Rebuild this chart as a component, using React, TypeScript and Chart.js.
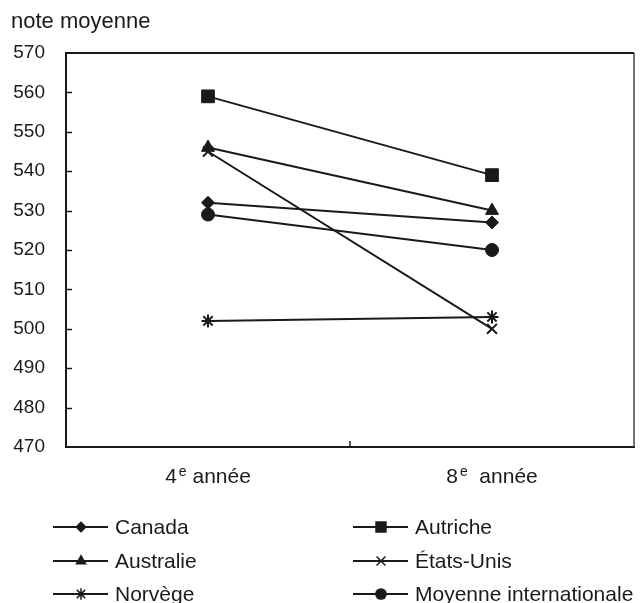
import React, { useEffect, useRef } from "react";
import { Chart, registerables } from "chart.js";

Chart.register(...registerables);

const categories = ["4", "8"];
const categorySuffix = [" année", "  année"];
const yMin = 470;
const yMax = 570;
const yStep = 10;

const seriesNames = ["Canada", "Autriche", "Australie", "États-Unis", "Norvège", "Moyenne internationale"];
const canada = [532, 527];
const autriche = [559, 539];
const australie = [546, 530];
const etatsUnis = [545, 500];
const norvege = [502, 503];
const moyenne = [529, 520];
const seriesValues = [canada, autriche, australie, etatsUnis, norvege, moyenne];
const seriesStyles = ["rectRot", "rect", "triangle", "crossRot", "star", "circle"];
const seriesRadius = [6.5, 9, 7.5, 7, 6.5, 6.5];
const legendOrder = [0, 1, 2, 3, 4, 5];

const FONT = "'Liberation Sans', Arial, Helvetica, sans-serif";
const INK = "#1a1a1a";

function drawMarker(ctx: CanvasRenderingContext2D, style: string, r: number, cx: number, cy: number) {
  ctx.save();
  ctx.fillStyle = INK;
  ctx.strokeStyle = INK;
  ctx.lineWidth = 1.5;
  ctx.beginPath();
  if (style === "rect") {
    const s = r * Math.SQRT1_2;
    ctx.rect(cx - s, cy - s, 2 * s, 2 * s);
    ctx.fill();
  } else if (style === "rectRot") {
    ctx.moveTo(cx - r, cy);
    ctx.lineTo(cx, cy - r);
    ctx.lineTo(cx + r, cy);
    ctx.lineTo(cx, cy + r);
    ctx.closePath();
    ctx.fill();
  } else if (style === "triangle") {
    ctx.moveTo(cx, cy - r);
    ctx.lineTo(cx + r * 0.866, cy + r * 0.5);
    ctx.lineTo(cx - r * 0.866, cy + r * 0.5);
    ctx.closePath();
    ctx.fill();
  } else if (style === "circle") {
    ctx.arc(cx, cy, r, 0, Math.PI * 2);
    ctx.fill();
  } else if (style === "crossRot") {
    const d = r * Math.SQRT1_2;
    ctx.moveTo(cx - d, cy - d);
    ctx.lineTo(cx + d, cy + d);
    ctx.moveTo(cx - d, cy + d);
    ctx.lineTo(cx + d, cy - d);
    ctx.stroke();
  } else if (style === "star") {
    const d = r * Math.SQRT1_2;
    ctx.moveTo(cx - d, cy - d);
    ctx.lineTo(cx + d, cy + d);
    ctx.moveTo(cx - d, cy + d);
    ctx.lineTo(cx + d, cy - d);
    ctx.moveTo(cx, cy - r);
    ctx.lineTo(cx, cy + r);
    ctx.stroke();
  }
  ctx.restore();
}

const customPlugin = {
  id: "customDraw",
  afterDraw(chart: any) {
    const ctx = chart.ctx;
    const area = chart.chartArea;
    const x = chart.scales.x;
    const y = chart.scales.y;
    ctx.save();
    ctx.strokeStyle = INK;
    ctx.lineWidth = 2;
    ctx.beginPath();
    ctx.moveTo(area.left, area.top);
    ctx.lineTo(area.right, area.top);
    ctx.stroke();
    ctx.strokeStyle = "#444";
    ctx.lineWidth = 1.5;
    ctx.beginPath();
    ctx.moveTo(area.right, area.top);
    ctx.lineTo(area.right, area.bottom);
    ctx.stroke();
    ctx.strokeStyle = INK;
    ctx.lineWidth = 1.5;
    for (let v = yMin + yStep; v < yMax; v += yStep) {
      const py = Math.round(y.getPixelForValue(v)) + 0.5;
      ctx.beginPath();
      ctx.moveTo(area.left, py);
      ctx.lineTo(area.left + 6, py);
      ctx.stroke();
    }
    const mid = (x.getPixelForValue(0) + x.getPixelForValue(1)) / 2;
    ctx.beginPath();
    ctx.moveTo(mid, area.bottom);
    ctx.lineTo(mid, area.bottom - 6);
    ctx.stroke();
    ctx.fillStyle = INK;
    ctx.textBaseline = "alphabetic";
    const big = "21px " + FONT;
    const small = "14px " + FONT;
    categories.forEach((c, i) => {
      const cx = x.getPixelForValue(i);
      ctx.font = big;
      const w1 = ctx.measureText(c).width;
      const w3 = ctx.measureText(categorySuffix[i]).width;
      ctx.font = small;
      const w2 = ctx.measureText("e").width;
      const total = w1 + 2 + w2 + w3;
      let sx = cx - total / 2;
      const base = area.bottom + 36;
      ctx.textAlign = "left";
      ctx.font = big;
      ctx.fillText(c, sx, base);
      sx += w1 + 2;
      ctx.font = small;
      ctx.fillText("e", sx, base - 7);
      sx += w2;
      ctx.font = big;
      ctx.fillText(categorySuffix[i], sx, base);
    });
    ctx.font = "22px " + FONT;
    ctx.textAlign = "left";
    ctx.textBaseline = "middle";
    ctx.fillText("note moyenne", 11, 22);
    const cols = [53, 353];
    const rows = [527, 561, 594];
    legendOrder.forEach((si, k) => {
      const col = k % 2;
      const row = Math.floor(k / 2);
      const x0 = cols[col];
      const yy = rows[row];
      ctx.strokeStyle = INK;
      ctx.lineWidth = 2;
      ctx.beginPath();
      ctx.moveTo(x0, yy);
      ctx.lineTo(x0 + 55, yy);
      ctx.stroke();
      drawMarker(ctx, seriesStyles[si], seriesRadius[si] * 0.9, x0 + 28, yy);
      ctx.fillStyle = INK;
      ctx.font = "21px " + FONT;
      ctx.textAlign = "left";
      ctx.textBaseline = "middle";
      ctx.fillText(seriesNames[si], x0 + 62, yy + 1);
    });
    ctx.restore();
  },
};

export default function App() {
  const ref = useRef<HTMLCanvasElement | null>(null);
  useEffect(() => {
    document.body.style.margin = "0";
    const canvas = ref.current;
    if (!canvas) return;
    const chart = new Chart(canvas, {
      type: "line",
      data: {
        labels: categories.map((c, i) => c + "e" + categorySuffix[i]),
        datasets: seriesNames.map((name, i) => ({
          label: name,
          data: seriesValues[i],
          borderColor: INK,
          backgroundColor: INK,
          borderWidth: 2,
          pointStyle: seriesStyles[i] as any,
          pointRadius: seriesRadius[i],
          pointBorderWidth: seriesStyles[i] === "crossRot" || seriesStyles[i] === "star" ? 2 : 1,
          pointBorderColor: INK,
          pointBackgroundColor: INK,
          tension: 0,
        })),
      },
      options: {
        responsive: false,
        animation: false,
        layout: { padding: { top: 53, right: 1, left: 0, bottom: 0 } },
        plugins: { legend: { display: false }, tooltip: { enabled: false } },
        scales: {
          x: {
            offset: true,
            ticks: { display: false },
            grid: { drawOnChartArea: false, drawTicks: false },
            border: { color: INK, width: 2 },
            afterFit: (s: any) => {
              s.height = 156;
            },
          },
          y: {
            min: yMin,
            max: yMax,
            ticks: {
              stepSize: yStep,
              color: INK,
              padding: 21,
              font: { family: FONT, size: 19 },
            },
            grid: { drawOnChartArea: false, drawTicks: false },
            border: { color: INK, width: 2 },
            afterFit: (s: any) => {
              s.width = 66;
            },
          },
        },
      },
      plugins: [customPlugin],
    });
    return () => chart.destroy();
  }, []);
  return <canvas ref={ref} width={644} height={603} style={{ display: "block" }} />;
}
